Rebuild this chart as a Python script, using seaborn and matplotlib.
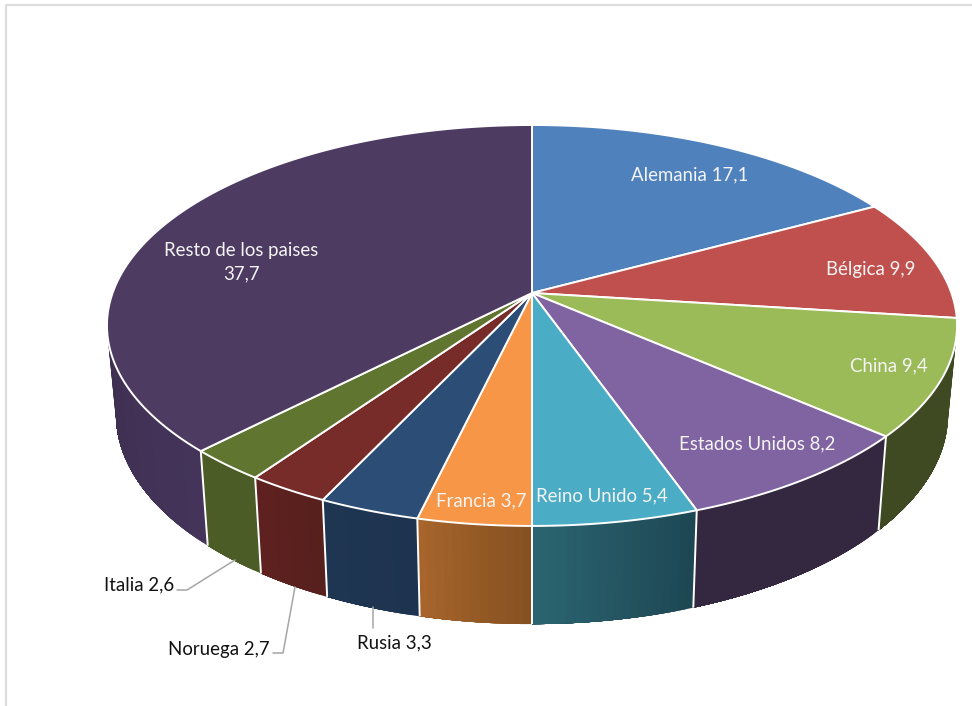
import numpy as np
import matplotlib
matplotlib.use("Agg")
import matplotlib.pyplot as plt
from matplotlib.colors import to_rgb
import seaborn as sns

# Data
countries = ["Alemania", "Bélgica", "China", "Estados Unidos", "Reino Unido",
             "Francia", "Rusia", "Noruega", "Italia", "Resto de los paises"]
shares = [17.1, 9.9, 9.4, 8.2, 5.4, 3.7, 3.3, 2.7, 2.6, 37.7]
share_labels = ["17,1", "9,9", "9,4", "8,2", "5,4", "3,7", "3,3", "2,7", "2,6", "37,7"]

# Styles
top_colors = ["#4F81BD", "#C0504D", "#9BBB59", "#8064A2", "#4BACC6",
              "#F79646", "#2C4D75", "#772C2A", "#5F7530", "#4D3B62"]
side_left = ["#3E4B6E", "#5E2725", "#3F4A22", "#33283F", "#2A6571",
             "#A8652C", "#1F3653", "#5F211F", "#4B5C26", "#3E2F50"]
side_right = ["#3E4B6E", "#5E2725", "#3F4A22", "#33283F", "#1E4653",
              "#84501F", "#1D3350", "#55201D", "#4B5C26", "#44345A"]
label_xy = [(689.5, 175), (871, 269), (888.5, 366), (757, 444), (602, 496),
            (481, 501), (394, 643), (219, 649), (139, 585), (241, 262)]
label_colors = ["#F4F4F4"] * 6 + ["#111111"] * 3 + ["#F4F4F4"]
leaders = [[(372.7, 607), (372.7, 628)],
           [(295, 587), (283, 653), (273, 653)],
           [(235, 560), (187, 590), (177, 590)]]

sns.set_theme(style="white")
plt.rcParams["font.family"] = ["Lato", "DejaVu Sans"]
palette = sns.color_palette(top_colors)

# Projection of the pie disc (perspective view)
CX, CY = 532.0, 293.0
K, B, A = 0.162, 195.2, 419.4
LOW_S, LOW_T, LOW_Y = 0.979, 1.048, 380.0


def proj(theta):
    u, v = np.sin(theta), np.cos(theta)
    d = 1 + K * v
    return A * u / d, B * v / d


def top_pts(theta):
    x, y = proj(theta)
    return CX + x, CY - y


def low_pts(theta):
    x, y = proj(theta)
    return CX + LOW_S * x, LOW_Y - LOW_T * y


fig = plt.figure(figsize=(9.72, 7.06), dpi=100, facecolor="white")
ax = fig.add_axes([0, 0, 1, 1])
ax.set_xlim(0, 972)
ax.set_ylim(706, 0)
ax.axis("off")

# Frame
ax.plot([6, 6, 972], [706, 5, 5], color="#DCDCDC", lw=1.6, zorder=1)

edges = 2 * np.pi * np.concatenate([[0], np.cumsum(shares)]) / np.sum(shares)
front_a, front_b = np.deg2rad(98), np.deg2rad(262)

# Side walls: theta runs right to left along the front, so each strip is
# painted out to the end of its slice and overdrawn by the next one (no seams)
for i in range(len(shares)):
    a, b = max(edges[i], front_a), min(edges[i + 1], front_b)
    if b <= a:
        continue
    n = max(int((b - a) * 60), 4)
    ts = np.linspace(a, b, n + 1)
    c_l, c_r = np.array(to_rgb(side_left[i])), np.array(to_rgb(side_right[i]))
    for j in range(n):
        f = (j + .5) / n
        col = c_r * (1 - f) + c_l * f
        t = np.linspace(ts[j], b, 40)
        xt, yt = top_pts(t)
        xl, yl = low_pts(t[::-1])
        ax.fill(np.r_[xt, xl], np.r_[yt, yl], color=col, lw=0, zorder=2)
# Wall separators
for e in edges[1:]:
    if np.deg2rad(100) < e < front_b:
        x0, y0 = top_pts(e)
        x1, y1 = low_pts(e)
        ax.plot([x0, x1], [y0, y1], color="white", lw=1.4, zorder=3,
                solid_capstyle="butt")

# Top face
for i in range(len(shares)):
    t = np.linspace(edges[i], edges[i + 1], 160)
    x, y = top_pts(t)
    ax.fill(np.r_[CX, x], np.r_[CY, y], facecolor=palette[i], edgecolor="white",
            lw=1.4, joinstyle="round", zorder=4)

# Leader lines
for pts in leaders:
    ax.plot(*zip(*pts), color="#A6A6A6", lw=1.1, zorder=5)

# Labels
for i, name in enumerate(countries):
    sep = "\n" if i == len(countries) - 1 else " "
    ax.text(*label_xy[i], f"{name}{sep}{share_labels[i]}", color=label_colors[i],
            fontsize=13.4, ha="center", va="center", zorder=6, linespacing=1.46)

fig.savefig("out.png", dpi=100, facecolor="white")
